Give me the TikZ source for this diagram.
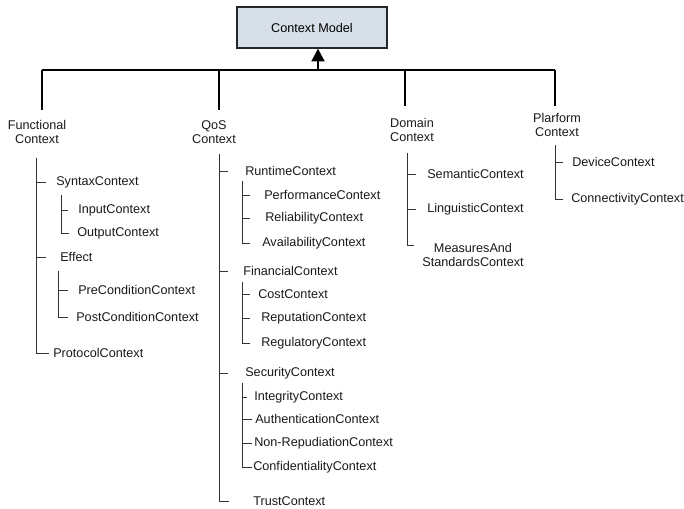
\documentclass[tikz,border=0pt]{standalone}
\usepackage{fontspec}
\setmainfont{Liberation Sans}
\usetikzlibrary{arrows.meta}

\definecolor{boxfill}{RGB}{215,223,233}
\tikzset{
  rootbox/.style={draw=black!85,line width=1pt,fill=boxfill,minimum width=3.75cm,minimum height=1.02cm,font=\fontsize{9}{10}\selectfont},
  grp/.style={align=center,inner sep=0pt,font=\fontsize{9}{10}\selectfont,text=black!90},
  leaf/.style={anchor=west,inner sep=0pt,font=\fontsize{9}{10}\selectfont,text=black!90},
  bar/.style={black,line width=1.8pt},
  twig/.style={black!80,line width=0.6pt}
}

\begin{document}
\begin{tikzpicture}[x=0.025cm,y=-0.025cm]
\useasboundingbox (0,0) rectangle (684,508);
% root and top bus
\node[rootbox] (cm) at (312,27.5) {Context Model};
\coordinate (hub) at (318,70);
\coordinate (d1) at (42,70);
\coordinate (d2) at (219,70);
\coordinate (d3) at (405,70);
\coordinate (d4) at (555,70);
\draw[bar] (d1) -- (d4);
\draw[bar,-{Triangle[width=9pt,length=9pt]}] (hub) -- (hub |- cm.south);
\draw[bar] (d1) -- ++(0,40);
\draw[bar] (d2) -- ++(0,40);
\draw[bar] (d3) -- ++(0,36);
\draw[bar] (d4) -- ++(0,36);
\node[grp] (fc) at (37,132) {Functional\\Context};
\node[grp] (qc) at (214,132) {QoS\\Context};
\node[grp] (dc) at (412,130) {Domain\\Context};
\node[grp] (pc) at (557,125) {Plarform\\Context};

% functional
\node[leaf] (syn) at (56,182) {SyntaxContext};
\node[leaf] (inp) at (78,210) {InputContext};
\node[leaf] (outp) at (77,233) {OutputContext};
\node[leaf] (eff) at (60,257) {Effect};
\node[leaf] (pre) at (78,290) {PreConditionContext};
\node[leaf] (post) at (76,317) {PostConditionContext};
\node[leaf] (proto) at (53,353) {ProtocolContext};
\coordinate (fv) at (36,158);
\coordinate (sv) at (61,195);
\coordinate (ev) at (58,271);
\draw[twig,shorten >=3pt] (fv) |- (proto.west);
\draw[twig] (fv |- syn.west) -- ++(10,0);
\draw[twig] (fv |- eff.west) -- ++(10,0);
\draw[twig,shorten >=6pt] (sv) |- (outp.west);
\draw[twig] (sv |- inp.west) -- ++(7,0);
\draw[twig,shorten >=5.5pt] (ev) |- (post.west);
\draw[twig] (ev |- pre.west) -- ++(10,0);

% qos
\node[leaf] (run) at (245,171) {RuntimeContext};
\node[leaf] (perf) at (264,195) {PerformanceContext};
\node[leaf] (rel) at (265,218) {ReliabilityContext};
\node[leaf] (avail) at (262,243) {AvailabilityContext};
\node[leaf] (fin) at (243,271) {FinancialContext};
\node[leaf] (cost) at (258,294) {CostContext};
\node[leaf] (rep) at (261,318) {ReputationContext};
\node[leaf] (reg) at (261,343) {RegulatoryContext};
\node[leaf] (sec) at (245,373) {SecurityContext};
\node[leaf] (integ) at (254,397) {IntegrityContext};
\node[leaf] (auth) at (255,419) {AuthenticationContext};
\node[leaf] (nonrep) at (254,443) {Non-RepudiationContext};
\node[leaf] (conf) at (253,467) {ConfidentialityContext};
\node[leaf] (trust) at (253,501) {TrustContext};
\coordinate (qv) at (219,154);
\coordinate (rv) at (242,181);
\coordinate (nv) at (242,282);
\coordinate (cv) at (242,383);
\draw[twig,shorten >=17pt] (qv) |- (trust.west);
\draw[twig] (qv |- run.west) -- ++(9,0);
\draw[twig] (qv |- fin.west) -- ++(9,0);
\draw[twig] (qv |- sec.west) -- ++(9,0);
\draw[twig,shorten >=8.5pt] (rv) |- (avail.west);
\draw[twig] (rv |- perf.west) -- ++(8,0);
\draw[twig] (rv |- rel.west) -- ++(8,0);
\draw[twig,shorten >=8pt] (nv) |- (reg.west);
\draw[twig] (nv |- cost.west) -- ++(8,0);
\draw[twig] (nv |- rep.west) -- ++(8,0);
\draw[twig,shorten >=1pt] (cv) |- (conf.west);
\draw[twig] (cv |- integ.west) -- ++(5,0);
\draw[twig] (cv |- auth.west) -- ++(10,0);
\draw[twig] (cv |- nonrep.west) -- ++(10,0);

% domain
\node[leaf] (sem) at (427,174) {SemanticContext};
\node[leaf] (ling) at (427,209) {LinguisticContext};
\node[grp] (meas) at (473,255) {MeasuresAnd\\StandardsContext};
\coordinate (dv) at (407,153);
\draw[twig,shorten >=6pt] (dv) |- ([yshift=7pt]meas.west);
\draw[twig] (dv |- sem.west) -- ++(9,0);
\draw[twig] (dv |- ling.west) -- ++(9,0);

% platform
\node[leaf] (dev) at (572,162) {DeviceContext};
\node[leaf] (conn) at (571,199) {ConnectivityContext};
\coordinate (pv) at (555,145);
\draw[twig,shorten >=5.5pt] (pv) |- (conn.west);
\draw[twig] (pv |- dev.west) -- ++(8,0);
\end{tikzpicture}
\end{document}
